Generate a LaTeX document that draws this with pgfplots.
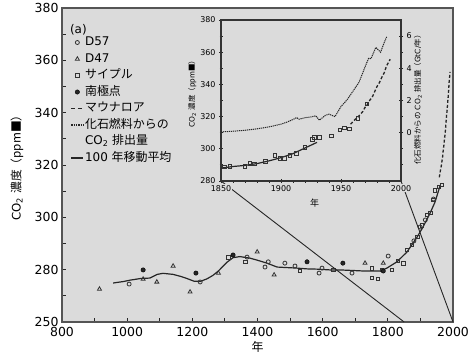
\documentclass[border=0pt]{standalone}
\usepackage{pgfplots}
\pgfplotsset{compat=1.18}
\usepackage{fontspec}
\setmainfont{DejaVu Sans}
\newfontfamily\jp{Noto Sans CJK JP}
\definecolor{bg}{RGB}{219,219,219}
\definecolor{fr}{RGB}{85,85,85}
\pgfplotsset{
  fossil/.style={black!85, line width=1bp, dash pattern=on 1.2bp off 0.8bp},
  mauna/.style={black!85, line width=1.3bp, dash pattern=on 3bp off 2bp},
  mavg/.style={black!85, line width=1.2bp},
  d57/.style={only marks, mark=o, mark size=2bp, mark options={black!80, line width=0.8bp}},
  d47/.style={only marks, mark=triangle, mark size=2.3bp, mark options={black!80, line width=0.8bp}},
  siple/.style={only marks, mark=square, mark size=1.8bp, mark options={black!80, line width=0.8bp}},
  spole/.style={only marks, mark=*, mark size=2.2bp, mark options={black, fill=black!85}},
  shortleg/.style={legend image code/.code={\draw[##1] (2.5bp,0bp) -- (14.5bp,0bp);}},
}
\begin{document}
\begin{tikzpicture}[x=1bp,y=1bp]
\path[use as bounding box] (0,0) rectangle (473,359);
\begin{axis}[
  at={(62bp,37bp)}, anchor=south west,
  scale only axis, width=391bp, height=314bp,
  xmin=800, xmax=2000, ymin=260, ymax=380,
  axis background/.style={fill=bg},
  axis line style={fr, line width=1.5bp},
  tick pos=left, tick align=inside,
  xtick={800,1000,...,2000}, minor xtick={900,1100,...,1900},
  ytick={260,280,300,320,340,360,380}, yticklabels={250,280,300,320,340,360,380},
  minor ytick={270,290,...,370},
  major tick length=4bp, minor tick length=4bp,
  tick style={black!85, line width=1bp},
  ticklabel style={font=\fontsize{12.5}{14}\selectfont, /pgf/number format/assume math mode=true},
  xticklabel style={/pgf/number format/1000 sep={}, yshift=-1.5bp},
  xlabel={\jp 年},
  every axis x label/.style={at={(axis description cs:0.5,-0.08)}, anchor=center, font=\fontsize{12}{14}\selectfont},
  ylabel={CO\textsubscript{2} {\jp 濃度（ppm■）}},
  every axis y label/.style={at={(axis description cs:-0.115,0.5)}, rotate=90, anchor=center, font=\fontsize{11.8}{13}\selectfont},
  legend style={at={(axis description cs:0.017,0.917)}, anchor=north west, draw=none, fill=none,
    font=\fontsize{12}{14}\selectfont, row sep=0pt, inner sep=0pt,
    nodes={inner sep=1bp, text height=10.5bp, text depth=4bp}},
  legend cell align=left,
]
% 100-year moving average
\addplot[mavg, forget plot] coordinates {(957,274.9) (990,275.5) (1009,276) (1040,276.6) (1070,276.8) (1092,278.2) (1110,278.6) (1141,278.2) (1165,277.4) (1184,276.6) (1205,275.6) (1224,275.5) (1245,276.5) (1263,277.8) (1280,279.5) (1306,282.8) (1325,284.6) (1346,285.0) (1377,284.4) (1400,283.6) (1429,282.5) (1460,281) (1490,280.8) (1521,280.6) (1552,280.3) (1583,280.2) (1623,279.9) (1653,279.9) (1690,279.7) (1724,279.5) (1776,279.5) (1797,280.6) (1828,283) (1859,286.8) (1890,292.5) (1908,296.3) (1930,301.7) (1945,305.9) (1960,312)};
% D57
\addplot[d57, forget plot] coordinates {(1006,274.5) (1224,275.3) (1368,284.8) (1433,283) (1423,281) (1484,282.5) (1515,281.4) (1589,278.7) (1598,280.6) (1690,278.7) (1801,285.2) (1880,291) (1899,296.3) (1915,299) (1940,307)};
% D47
\addplot[d47, forget plot] coordinates {(915,272.6) (1049,276.4) (1091,275.3) (1141,281.4) (1193,271.5) (1280,278.7) (1399,286.8) (1451,278) (1730,282.5) (1786,282.5)};
% Siple
\addplot[siple, forget plot] coordinates {(1310,284.8) (1362,283) (1530,279.5) (1632,279.9) (1751,280.6) (1751,276.8) (1770,276.4) (1782,279.9) (1813,279.9) (1831,283.3) (1847,282.5) (1859,287.5) (1874,289.4) (1890,292.5) (1905,297) (1920,300.9) (1930,301.7) (1939,306.6) (1945,310.4) (1957,311.6) (1966,312.4)};
% South Pole
\addplot[spole, forget plot] coordinates {(1049,279.9) (1211,278.7) (1325,285.6) (1552,283) (1662,282.5) (1786,279.5)};
% Mauna Loa
\addplot[mauna, forget plot] coordinates {(1958,315.3) (1960,316.9) (1962,318.4) (1964,319.6) (1966,321.4) (1968,323.0) (1970,325.7) (1972,327.5) (1974,330.2) (1976,332.0) (1978,335.4) (1980,338.7) (1982,341.1) (1984,344.4) (1986,347.2) (1988,351.6) (1990,354.2) (1991,355.6)};
% legend
\addlegendimage{d57}
\addlegendentry{D57}
\addlegendimage{d47}
\addlegendentry{D47}
\addlegendimage{siple}
\addlegendentry{\jp サイプル}
\addlegendimage{spole}
\addlegendentry{\jp 南極点}
\addlegendimage{mauna, dash pattern=on 4bp off 2.5bp, shortleg}
\addlegendentry{\jp マウナロア}
\addlegendimage{fossil, line width=1.2bp, dash pattern=on 1.5bp off 0.8bp, shortleg}
\addlegendentry{\jp 化石燃料からの}
\addlegendimage{empty legend}
\addlegendentry{CO\textsubscript{2} {\jp 排出量}}
\addlegendimage{mavg, line width=1.4bp, shortleg}
\addlegendentry{100 {\jp 年移動平均}}
\node[anchor=west, font=\fontsize{12}{14}\selectfont, inner sep=0pt] at (axis description cs:0.02,0.93) {(a)};
\coordinate (mA) at (axis cs:1850,260);
\coordinate (mB) at (axis cs:2000,260);
\end{axis}
\draw[black!85, line width=0.9bp] (mA) -- (221,178);
\draw[black!85, line width=0.9bp] (mB) -- (401,178);
% inset
\begin{axis}[
  at={(221bp,178bp)}, anchor=south west,
  scale only axis, width=180bp, height=161bp,
  xmin=1850, xmax=2000, ymin=280, ymax=380,
  axis background/.style={fill=bg},
  axis line style={black!80, line width=1.8bp},
  tick pos=left, tick align=center,
  xtick={1850,1900,1950,2000}, minor xtick={1860,1870,...,1990},
  ytick={280,300,...,380}, minor ytick={290,310,...,370},
  major tick length=4bp, minor tick length=3bp,
  tick style={black!85, line width=0.9bp},
  ticklabel style={font=\fontsize{8}{9}\selectfont, /pgf/number format/assume math mode=true},
  xticklabel style={/pgf/number format/1000 sep={}, fill=bg, inner sep=1bp, yshift=-1bp},
  xlabel={\jp 年},
  every axis x label/.style={at={(axis description cs:0.52,-0.137)}, anchor=center, font=\fontsize{9}{10}\selectfont},
  ylabel={CO\textsubscript{2} {\jp 濃度（ppm■）}},
  every axis y label/.style={at={(axis description cs:-0.16,0.553)}, rotate=90, anchor=center, font=\fontsize{7.5}{9}\selectfont},
]
\addplot[mavg] coordinates {(1850,288) (1860,289) (1870,289.7) (1880,290.8) (1890,292.5) (1900,294.5) (1910,297) (1920,300.5) (1930,304)};
\addplot[siple] coordinates {(1853,288.7) (1857.5,289) (1870,289) (1874,291) (1878,290.5) (1887,292) (1895,296) (1899,294) (1903,294) (1907.5,296) (1913,297) (1920,301) (1926,306) (1928,307) (1932,307) (1942,308) (1949,311.7) (1953,313) (1957,312.3) (1964,319) (1971.6,328)};
\addplot[mauna] coordinates {(1958,315.3) (1960,316.9) (1962,318.4) (1964,319.6) (1966,321.4) (1968,323.0) (1970,325.7) (1972,327.5) (1974,330.2) (1976,332.0) (1978,335.4) (1980,338.7) (1982,341.1) (1984,344.4) (1986,347.2) (1988,351.6) (1990,354.2) (1991,355.6)};
\end{axis}
\begin{axis}[
  at={(221bp,178bp)}, anchor=south west,
  scale only axis, width=180bp, height=161bp,
  xmin=1850, xmax=2000, ymin=-3, ymax=7,
  axis x line=none, axis y line*=right,
  axis line style={black!80, line width=1.8bp},
  tick align=center,
  ytick={0,2,4,6}, minor ytick={-2,-1,1,3,5},
  major tick length=4bp, minor tick length=3bp,
  tick style={black!85, line width=0.9bp},
  ticklabel style={font=\fontsize{8}{9}\selectfont, /pgf/number format/assume math mode=true},
  ylabel={{\jp 化石燃料からの} CO\textsubscript{2} {\jp 排出量（}GtC/{\jp 年）}},
  every axis y label/.style={at={(axis description cs:1.094,0.515)}, rotate=90, anchor=center, font=\fontsize{7.5}{9}\selectfont},
]
\addplot[fossil] coordinates {(1850,0.05) (1860,0.09) (1870,0.15) (1880,0.24) (1890,0.36) (1900,0.53) (1905,0.66) (1910,0.82) (1913,0.94) (1915,0.84) (1920,0.93) (1925,0.98) (1929,1.05) (1932,0.78) (1937,1.08) (1940,1.15) (1945,1.0) (1950,1.63) (1955,2.04) (1960,2.58) (1965,3.13) (1970,4.08) (1973,4.62) (1975,4.6) (1979,5.3) (1983,5.0) (1986,5.6) (1988,5.95)};
\end{axis}
\end{tikzpicture}
\end{document}
